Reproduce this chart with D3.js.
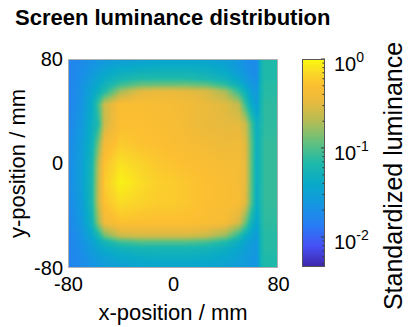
<!DOCTYPE html>
<html><head><meta charset="utf-8">
<script src="https://cdn.jsdelivr.net/npm/d3@7"></script>
<style>body{margin:0;background:#fff}svg{display:block}</style>
</head><body>
<svg id="chart" width="409" height="327"></svg>
<script>
// ---- data (standardized luminance) ----
const xPos = [-80,-70,-62,-57,-52,-40,-25,-10,0,10,25,40,50,55,60,64,67,70,79,80];
const yPos = [80,72,65,60,55,45,30,15,0,-15,-30,-45,-55,-60,-65,-72,-80];
const luminance = [
 [0.0152,0.0179,0.0210,0.0222,0.0234,0.0275,0.0306,0.0323,0.0323,0.0323,0.0323,0.0290,0.0234,0.0199,0.0179,0.0179,0.0523,0.0684,0.0684,0.0684],
 [0.0152,0.0189,0.0234,0.0275,0.0323,0.0400,0.0445,0.0470,0.0470,0.0470,0.0445,0.0359,0.0260,0.0222,0.0189,0.0189,0.0523,0.0684,0.0684,0.0684],
 [0.0152,0.0199,0.0275,0.0341,0.0422,0.0582,0.0684,0.0684,0.0684,0.0684,0.0614,0.0496,0.0341,0.0260,0.0210,0.0199,0.0523,0.0684,0.0684,0.0684],
 [0.0152,0.0210,0.0306,0.0400,0.0523,0.0894,0.123,0.130,0.130,0.130,0.117,0.0803,0.0496,0.0341,0.0247,0.0222,0.0552,0.0722,0.0722,0.0722],
 [0.0152,0.0210,0.0341,0.0470,0.0684,0.180,0.307,0.342,0.342,0.324,0.291,0.180,0.0803,0.0496,0.0290,0.0247,0.0552,0.0722,0.0722,0.0722],
 [0.0152,0.0222,0.0400,0.0894,0.248,0.472,0.472,0.447,0.424,0.402,0.342,0.307,0.223,0.0894,0.0400,0.0290,0.0582,0.0761,0.0761,0.0761],
 [0.0161,0.0247,0.0445,0.0684,0.248,0.498,0.498,0.472,0.447,0.402,0.342,0.324,0.324,0.248,0.0894,0.0445,0.0614,0.0761,0.0761,0.0761],
 [0.0170,0.0275,0.0496,0.130,0.402,0.585,0.525,0.498,0.472,0.447,0.402,0.361,0.381,0.307,0.105,0.0470,0.0648,0.0803,0.0803,0.0803],
 [0.0179,0.0290,0.0582,0.200,0.525,0.764,0.651,0.554,0.525,0.498,0.472,0.424,0.424,0.324,0.105,0.0445,0.0648,0.0803,0.0803,0.0803],
 [0.0179,0.0290,0.0614,0.223,0.585,0.898,0.725,0.617,0.585,0.554,0.498,0.472,0.424,0.324,0.105,0.0445,0.0648,0.0803,0.0803,0.0803],
 [0.0170,0.0275,0.0614,0.223,0.525,0.725,0.651,0.585,0.585,0.554,0.498,0.472,0.447,0.307,0.0996,0.0422,0.0648,0.0803,0.0803,0.0803],
 [0.0161,0.0247,0.0523,0.161,0.381,0.525,0.498,0.498,0.498,0.498,0.472,0.424,0.276,0.130,0.0523,0.0341,0.0614,0.0761,0.0761,0.0761],
 [0.0152,0.0222,0.0359,0.0614,0.130,0.248,0.276,0.276,0.276,0.276,0.248,0.161,0.0761,0.0470,0.0323,0.0275,0.0582,0.0722,0.0722,0.0722],
 [0.0152,0.0210,0.0306,0.0422,0.0582,0.0894,0.105,0.105,0.105,0.105,0.0944,0.0684,0.0445,0.0341,0.0275,0.0247,0.0582,0.0722,0.0722,0.0722],
 [0.0152,0.0199,0.0275,0.0341,0.0422,0.0523,0.0582,0.0582,0.0582,0.0582,0.0552,0.0470,0.0359,0.0306,0.0260,0.0247,0.0552,0.0722,0.0722,0.0065],
 [0.0152,0.0189,0.0234,0.0275,0.0306,0.0379,0.0422,0.0445,0.0445,0.0445,0.0422,0.0359,0.0306,0.0275,0.0247,0.0234,0.0552,0.0684,0.0684,0.0065],
 [0.0152,0.0179,0.0210,0.0234,0.0260,0.0290,0.0323,0.0323,0.0323,0.0323,0.0323,0.0306,0.0275,0.0260,0.0234,0.0234,0.0523,0.0684,0.0684,0.0065]
];
const xTicks = [-80, 0, 80];
const yTicks = [-80, 0, 80];
const cbTicks = [0.01, 0.1, 1];
const cbExponents = ["-2", "-1", "0"];
const colorRange = [0.0046, 1];
const title = "Screen luminance distribution";
const xLabel = "x-position / mm";
const yLabel = "y-position / mm";
const cbLabel = "Standardized luminance";
// parula-like colour stops
const stopT = [0,0.1,0.2,0.3,0.4,0.5,0.6,0.7,0.8,0.87,0.93,1];
const stopC = ["#3e26a8","#4650f5","#287df5","#1496e1","#08aac8","#1eb9aa","#64c07d","#b4bc55","#ebba3c","#fcbe32","#fad728","#f9fb0e"];

// ---- layout ----
const FONT = "'Liberation Sans', Arial, sans-serif";
const plot = {x: 68, y: 59, w: 210, h: 209};
const cb = {x: 302, y: 59, w: 23, h: 208};
const fmt = d => String(d);   // plain hyphen-minus, as in the original

const svg = d3.select("#chart");
const xScale = d3.scaleLinear().domain([-80, 80]).range([plot.x, plot.x + plot.w]);
const yScale = d3.scaleLinear().domain([80, -80]).range([plot.y, plot.y + plot.h]);
const tScale = d3.scaleLog().domain(colorRange).range([0, 1]).clamp(true);
const cScale = d3.scaleLinear().domain(stopT).range(stopC).interpolate(d3.interpolateRgb);
const color = v => cScale(tScale(v));

// ---- heat map image ----
const logL = luminance.map(r => r.map(v => Math.log10(v)));
const yAsc = yPos.slice().reverse();
const cv = document.createElement("canvas");
cv.width = plot.w; cv.height = plot.h;
const ctx = cv.getContext("2d");
const img = ctx.createImageData(plot.w, plot.h);
function seg(arr, v) {
  let i = d3.bisectRight(arr, v) - 1;
  i = Math.max(0, Math.min(arr.length - 2, i));
  const f = Math.max(0, Math.min(1, (v - arr[i]) / (arr[i+1] - arr[i])));
  return [i, f];
}
for (let py = 0; py < plot.h; py++) {
  const ym = yScale.invert(plot.y + py + 0.5);
  const [ja, fy] = seg(yAsc, ym);
  const r0 = yPos.length - 1 - ja, r1 = r0 - 1;
  for (let px = 0; px < plot.w; px++) {
    const xm = xScale.invert(plot.x + px + 0.5);
    const [i, fx] = seg(xPos, xm);
    const a = logL[r0][i]*(1-fx) + logL[r0][i+1]*fx;
    const b = logL[r1][i]*(1-fx) + logL[r1][i+1]*fx;
    const c = d3.rgb(color(Math.pow(10, a*(1-fy) + b*fy)));
    const k = (py*plot.w + px)*4;
    img.data[k]=c.r; img.data[k+1]=c.g; img.data[k+2]=c.b; img.data[k+3]=255;
  }
}
ctx.putImageData(img, 0, 0);
svg.append("image").attr("x", plot.x).attr("y", plot.y)
  .attr("width", plot.w).attr("height", plot.h)
  .attr("preserveAspectRatio", "none")
  .attr("href", cv.toDataURL());
svg.append("rect").attr("x", plot.x + 0.5).attr("y", plot.y + 0.5)
  .attr("width", plot.w - 1).attr("height", plot.h - 1)
  .attr("fill", "none").attr("stroke", "#b0b0b0").attr("stroke-width", 1);

// ---- axes ----
const xAxis = svg.append("g").attr("transform", `translate(0,${plot.y + plot.h})`)
  .call(d3.axisBottom(xScale).tickValues(xTicks).tickSize(0).tickPadding(9).tickFormat(fmt));
const yAxis = svg.append("g").attr("transform", `translate(${plot.x},0)`)
  .call(d3.axisLeft(yScale).tickValues(yTicks).tickSize(0).tickPadding(5).tickFormat(fmt));
[xAxis, yAxis].forEach(g => {
  g.select(".domain").remove();
  g.selectAll("text").attr("font-family", FONT).attr("font-size", 20).attr("fill", "#000");
});
xAxis.selectAll("text").attr("dy", "0.71em");

// ---- colour bar ----
const cbScale = d3.scaleLog().domain(colorRange).range([cb.y + cb.h, cb.y]);
const cbc = document.createElement("canvas");
cbc.width = 1; cbc.height = cb.h;
const cctx = cbc.getContext("2d");
for (let j = 0; j < cb.h; j++) {
  cctx.fillStyle = color(cbScale.invert(cb.y + j + 0.5));
  cctx.fillRect(0, j, 1, 1);
}
svg.append("image").attr("x", cb.x).attr("y", cb.y).attr("width", cb.w).attr("height", cb.h)
  .attr("preserveAspectRatio", "none").attr("href", cbc.toDataURL());
const minor = [];
[0.001, 0.01, 0.1].forEach(d => { for (let m = 2; m <= 9; m++) minor.push(d*m); });
svg.append("g").selectAll("line").data(minor.filter(v => v >= colorRange[0] && v <= colorRange[1]))
  .join("line")
  .attr("x1", cb.x + cb.w - 2.5).attr("x2", cb.x + cb.w)
  .attr("y1", d => cbScale(d)).attr("y2", d => cbScale(d))
  .attr("stroke", "#333").attr("stroke-width", 1);
svg.append("g").selectAll("line").data(cbTicks).join("line")
  .attr("x1", cb.x + cb.w - 4).attr("x2", cb.x + cb.w)
  .attr("y1", d => cbScale(d)).attr("y2", d => cbScale(d))
  .attr("stroke", "#333").attr("stroke-width", 1);
svg.append("rect").attr("x", cb.x + 0.5).attr("y", cb.y + 0.5).attr("width", cb.w - 1).attr("height", cb.h - 1)
  .attr("fill", "none").attr("stroke", "#555").attr("stroke-width", 1);
const cbLab = svg.append("g").selectAll("text").data(cbTicks).join("text")
  .attr("x", cb.x + cb.w + 9).attr("y", d => cbScale(d) + 12)
  .attr("font-family", FONT).attr("font-size", 20).attr("fill", "#000");
cbLab.append("tspan").text("10");
cbLab.append("tspan").attr("dy", -9).attr("font-size", 14).text((d, i) => cbExponents[i]);

// ---- titles ----
svg.append("text").attr("x", 15).attr("y", 25).attr("font-family", FONT)
  .attr("font-size", 22).attr("font-weight", "bold").text(title);
svg.append("text").attr("x", plot.x + plot.w/2).attr("y", 320).attr("text-anchor", "middle")
  .attr("font-family", FONT).attr("font-size", 22).text(xLabel);
svg.append("text").attr("transform", `translate(25,${plot.y + plot.h/2}) rotate(-90)`)
  .attr("text-anchor", "middle").attr("font-family", FONT).attr("font-size", 22).text(yLabel);
svg.append("text").attr("transform", `translate(402,176) rotate(-90)`)
  .attr("text-anchor", "middle").attr("font-family", FONT).attr("font-size", 25).text(cbLabel);
</script>
</body></html>
